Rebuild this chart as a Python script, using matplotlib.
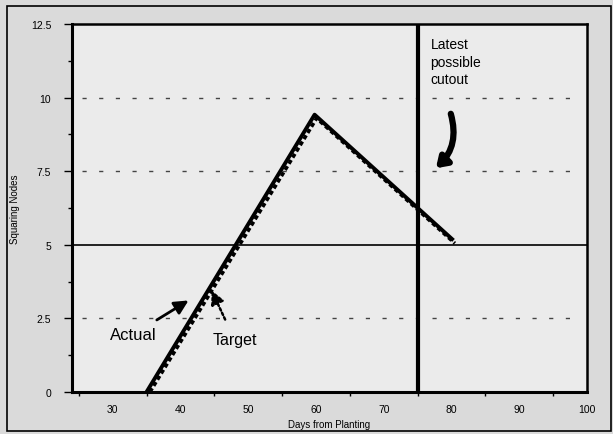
import matplotlib
matplotlib.use("Agg")
from matplotlib import pyplot as plt
from matplotlib.patches import Rectangle

plt.rcParams['font.family'] = ['Liberation Sans', 'DejaVu Sans']

# squaring nodes vs days from planting
actual_days = [35, 59.8, 80.3]
actual_nodes = [0, 9.42, 5.15]
target_days = [35.5, 60.1, 80.5]
target_nodes = [0, 9.3, 5.05]

cutout_day = 75
threshold_nodes = 5
grid_nodes = [2.5, 7.5, 10]

xticks = [30, 40, 50, 60, 70, 80, 90, 100]
yticks = [0, 2.5, 5, 7.5, 10, 12.5]
ytick_labels = ['0', '2.5', '5', '7.5', '10', '12.5']

fig = plt.figure(figsize=(6.13, 4.35), dpi=100)
fig.patch.set_facecolor('#dadada')
fig.patches.append(Rectangle((7/613, 3/435), 604/613, 425/435, transform=fig.transFigure,
                             fill=False, edgecolor='black', lw=1.2))

ax = fig.add_axes([72/613, 42/435, 515/613, 368/435])
ax.set_facecolor('#ebebeb')
ax.set_xlim(24, 100)
ax.set_ylim(0, 12.5)

for y in grid_nodes:
    ax.plot([25.5, 99], [y, y], color='#444444', lw=1, dashes=(3, 9), zorder=1)
ax.axhline(threshold_nodes, color='black', lw=1.2, zorder=2)
ax.axvline(cutout_day, color='black', lw=3, zorder=3)

ax.plot(actual_days, actual_nodes, color='black', lw=2.8, solid_capstyle='butt', zorder=4)
ax.plot(target_days, target_nodes, color='black', lw=2.6, dashes=(1.2, 0.8), zorder=4)

# spines and ticks
for side in ['left', 'bottom']:
    ax.spines[side].set_linewidth(2.2)
for side in ['top', 'right']:
    ax.spines[side].set_linewidth(1.8)
ax.set_xticks(xticks)
ax.set_xticks([25, 35, 45, 55, 65, 75, 85, 95], minor=True)
ax.set_yticks(yticks)
ax.set_yticklabels(ytick_labels)
ax.set_yticks([1.25, 3.75, 6.25, 8.75, 11.25], minor=True)
ax.tick_params(axis='x', which='major', length=0, pad=9, labelsize=7.5)
ax.tick_params(axis='x', which='minor', length=3, width=1, direction='out')
ax.tick_params(axis='y', which='major', length=6, width=1, pad=9, labelsize=7.5)
ax.tick_params(axis='y', which='minor', length=3, width=1)

ax.set_xlabel('Days from Planting', fontsize=7, labelpad=3)
ax.set_ylabel('Squaring Nodes', fontsize=7, labelpad=8)

# annotations
ax.text(76.9, 12.05, 'Latest\npossible\ncutout', fontsize=10, va='top', ha='left',
        linespacing=1.3)
ax.annotate('', xy=(77.7, 7.6), xytext=(79.9, 9.45),
            arrowprops=dict(arrowstyle='-|>,head_width=0.4,head_length=0.6', lw=4.5,
                            color='black', connectionstyle='arc3,rad=-0.3',
                            shrinkA=0, shrinkB=0))
ax.annotate('Actual', xy=(41.2, 3.11), xytext=(33.0, 1.95), fontsize=12,
            ha='center', va='center',
            arrowprops=dict(arrowstyle='-|>,head_width=0.35,head_length=0.7', lw=2,
                            color='black', shrinkA=6, shrinkB=0))
ax.annotate('Target', xy=(44.6, 3.45), xytext=(48.0, 1.77), fontsize=11.5,
            ha='center', va='center',
            arrowprops=dict(arrowstyle='-|>,head_width=0.35,head_length=0.7', lw=1.8,
                            color='black', linestyle=(0, (1, 1)), shrinkA=8, shrinkB=0))

fig.savefig('out.png', dpi=100, facecolor=fig.get_facecolor())
